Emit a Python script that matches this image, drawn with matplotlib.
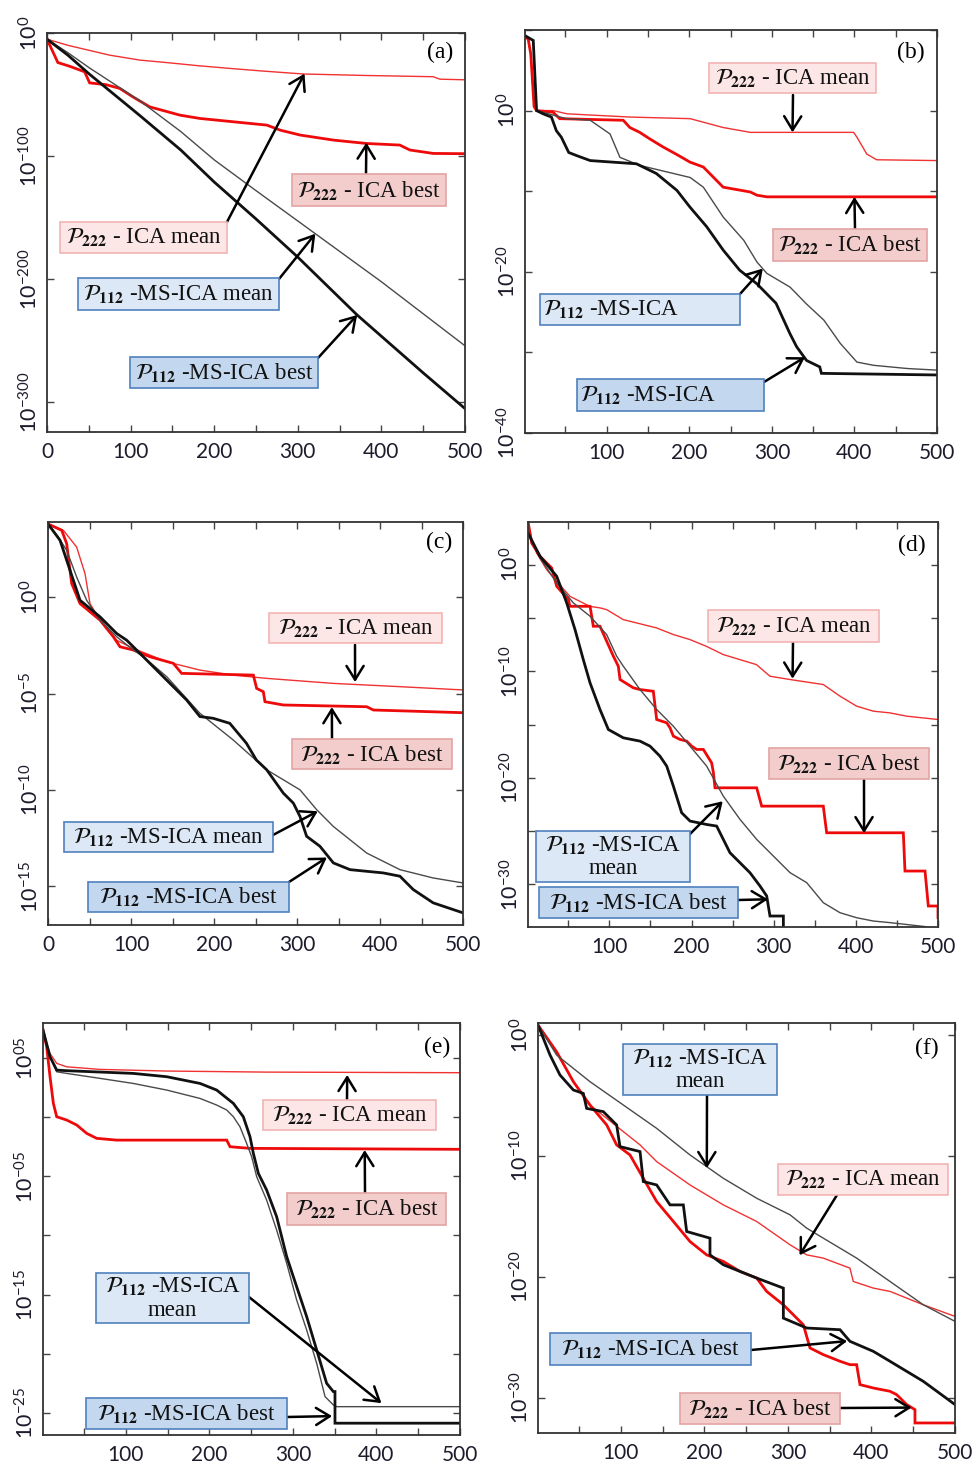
import matplotlib
matplotlib.use('Agg')
import matplotlib.pyplot as plt
from matplotlib.patches import Rectangle
from matplotlib.ticker import MultipleLocator, FuncFormatter

plt.rcParams['font.family'] = ['Lato', 'DejaVu Sans']
plt.rcParams['mathtext.fontset'] = 'custom'
plt.rcParams['mathtext.rm'] = 'Lato'
plt.rcParams['mathtext.it'] = 'Lato:italic'
plt.rcParams['mathtext.bf'] = 'Lato:bold'

W, H = 974, 1467

# ---- data: iteration vs log10(cost) ----
# (a)
a_ica_mean_x = [0, 25, 50, 75, 111, 143, 180, 223, 260, 307, 382, 462, 470, 500]
a_ica_mean_y = [-5, -10, -14, -18, -22, -24, -26.5, -29, -31, -33.3, -34.5, -35.5, -37.5, -38]
a_ica_best_x = [0, 13, 27, 45, 51, 71, 87, 103, 123, 159, 183, 263, 279, 303, 343, 382, 422, 434, 462, 500]
a_ica_best_y = [-5, -24, -27, -31.5, -40.5, -42, -45, -52, -60, -66.7, -69.4, -74.8, -78.9, -82.9, -87, -89.7, -91, -95, -97.8, -98]
a_ms_mean_x = [0, 25, 50, 111, 160, 200, 250, 321, 400, 450, 500]
a_ms_mean_y = [-5, -16, -28, -55, -80, -103, -128, -163, -202, -228, -254]
a_ms_best_x = [0, 25, 50, 111, 160, 200, 250, 300, 371, 450, 500]
a_ms_best_y = [-5, -18, -33, -67, -95, -121, -151, -182, -229, -276, -305]

# (b)
b_ica_mean_x = [1, 5, 8, 12, 15, 35, 52, 128, 201, 241, 274, 399, 403, 415, 427, 500]
b_ica_mean_y = [9.3, 8.8, 7.0, 0.5, 0.0, 0.0, -0.4, -0.8, -1.0, -2.1, -2.7, -2.7, -3.3, -5.4, -6.1, -6.2]
b_ica_best_x = [1, 5, 8, 12, 15, 35, 43, 120, 128, 140, 152, 168, 184, 201, 217, 241, 274, 282, 294, 500]
b_ica_best_y = [9.3, 8.8, 7.0, 0.5, 0.0, -0.2, -1.0, -1.2, -2.1, -2.7, -3.5, -4.5, -5.4, -6.4, -7.0, -9.5, -10.1, -10.5, -10.7, -10.7]
b_ms_mean_x = [1, 11, 15, 51, 80, 104, 116, 140, 201, 217, 241, 266, 282, 294, 322, 342, 363, 383, 403, 423, 464, 500]
b_ms_mean_y = [9.3, 8.7, 0.0, -1.0, -1.2, -2.9, -5.8, -6.8, -8.3, -9.5, -13.2, -16.1, -18.8, -20.2, -21.9, -24.0, -26.0, -28.9, -31.2, -31.6, -32.0, -32.2]
b_ms_best_x = [1, 11, 15, 23, 33, 39, 45, 54, 64, 80, 136, 160, 185, 201, 221, 241, 261, 282, 305, 322, 330, 342, 358, 360, 500]
b_ms_best_y = [9.3, 8.7, 0.0, -0.4, -0.8, -2.5, -3.3, -5.2, -5.6, -6.2, -6.6, -7.8, -9.9, -12.0, -14.4, -17.3, -19.8, -21.5, -23.9, -27.7, -29.3, -31.0, -31.8, -32.6, -32.8]

# (c)
c_ica_mean_x = [0, 18.5, 34.5, 44.6, 50.6, 62.7, 82.7, 102.8, 122.9, 143, 183, 223, 263.5, 343.8, 424, 500]
c_ica_mean_y = [3.8, 3.47, 2.6, 1.22, -0.33, -1.19, -2.23, -2.66, -3.0, -3.35, -3.78, -4.04, -4.21, -4.47, -4.64, -4.81]
c_ica_best_x = [0, 16.5, 22.5, 28.5, 38.6, 62.7, 78.7, 86.7, 102.8, 122.9, 151, 161, 247.4, 251.4, 259.4, 261.4, 283.5, 384, 392, 500]
c_ica_best_y = [3.8, 3.47, 2.78, 0.71, -0.33, -1.19, -2.05, -2.57, -2.74, -3.09, -3.43, -3.95, -4.04, -4.73, -4.9, -5.42, -5.59, -5.68, -5.85, -5.99]
c_ms_mean_x = [0, 12.4, 22.5, 34.5, 46.6, 62.7, 82.7, 102.8, 114.9, 143, 183, 223, 263.5, 303.6, 323.7, 343.8, 384, 424, 464, 500]
c_ms_mean_y = [3.8, 3.12, 2.43, 1.05, -0.16, -1.19, -2.05, -2.74, -3.09, -4.12, -6.02, -7.4, -8.95, -9.99, -11.02, -11.89, -13.27, -14.13, -14.56, -14.82]
c_ms_best_x = [0, 14.5, 26.5, 38.6, 62.7, 82.7, 94.8, 114.9, 143, 167, 183, 199, 219, 239, 251, 263.5, 283.5, 295.6,
               303.6, 311.6, 327.7, 343.8, 363.9, 404, 424, 440, 464, 500]
c_ms_best_y = [3.8, 2.95, 1.4, -0.16, -1.02, -1.88, -2.23, -3.09, -4.3, -5.33, -6.19, -6.28, -6.54, -7.57, -8.44, -8.95,
               -10.16, -10.68, -11.37, -12.4, -12.92, -13.78, -14.13, -14.3, -14.47, -15.16, -15.85, -16.37]

# (d)
d_ica_mean_x = [1, 5.5, 11.5, 23.7, 35.9, 52, 76, 88.6, 96.7, 117, 157.6, 177.9, 198, 218, 238.7, 279, 295.5, 319.9,
                360.4, 380.7, 401, 421.3, 441.6, 461.9, 500]
d_ica_mean_y = [4.06, 2.34, 1.09, -0.47, -1.56, -2.97, -3.91, -4.06, -4.22, -5.16, -5.94, -6.56, -7.03, -7.66, -8.44,
                -9.38, -10.47, -10.78, -11.25, -12.34, -13.28, -13.75, -13.91, -14.22, -14.53]
d_ica_best_x = [1, 5.5, 15.6, 29.8, 35.9, 50.1, 52.1, 76.5, 80.5, 88.6, 104.9, 110.9, 113, 129.2, 137.3, 153.5, 157.6,
                169.8, 173.8, 177.9, 186, 194.1, 200.2, 206.3, 214.4, 224.5, 226.6, 228.6, 279.3, 285.4, 360.4, 364.5,
                457.8, 459.8, 484.2, 488.2, 500, 500]
d_ica_best_y = [4.06, 2.03, 0.78, -0.31, -2.03, -3.28, -3.91, -3.91, -5.78, -5.78, -8.59, -9.53, -10.78, -11.56, -11.72,
                -11.88, -14.53, -14.84, -15.31, -16.09, -16.4, -16.56, -17.03, -17.34, -17.34, -18.6, -19.5, -20.94,
                -20.94, -22.66, -22.66, -25.16, -25.16, -28.75, -28.75, -32.03, -32.03, -33.1]
d_ms_mean_x = [1, 15.6, 35.9, 56.2, 76.5, 96.7, 108.9, 117, 137.3, 157.6, 177.9, 198.2, 218.4, 238.7, 259, 279.3,
               299.6, 319.9, 340.2, 360.4, 380.7, 401, 421.3, 441.6, 485.2]
d_ms_mean_y = [2.97, 0.63, -1.72, -3.59, -4.84, -6.56, -8.59, -9.53, -11.72, -13.59, -15.16, -17.03, -18.9, -21.72,
               -23.9, -25.78, -27.34, -28.9, -29.84, -31.72, -32.66, -33.13, -33.44, -33.59, -33.97]
d_ms_best_x = [1, 15.6, 35.9, 48.1, 58.2, 68.3, 76.5, 88.6, 98.8, 117, 137.3, 149.5, 161.6, 169.8, 177.9, 188, 198.2,
               218.4, 230.6, 246.8, 271.2, 283.4, 291.5, 295.5, 311.8, 311.8]
d_ms_best_y = [2.97, 0.78, -1.09, -3.59, -6.09, -8.91, -11.09, -13.59, -15.47, -16.25, -16.56, -17.03, -17.97, -18.9,
               -20.78, -23.28, -24.06, -24.38, -24.53, -27.03, -28.91, -30.16, -31.09, -32.97, -32.97, -34.5]

# (e)
e_ica_mean_x = [1, 5.4, 9.4, 17.4, 29.3, 69.2, 149, 268.6, 500]
e_ica_mean_y = [7.4, 6.27, 5.42, 4.58, 4.29, 4.07, 3.93, 3.84, 3.79]
e_ica_best_x = [1, 5.4, 9.4, 13.4, 17.4, 29.3, 41.3, 53.3, 65.2, 89.2, 220.8, 224.8, 248.7, 500]
e_ica_best_y = [7.4, 5.99, 3.45, 1.19, 0.06, -0.22, -0.64, -1.35, -1.77, -1.92, -1.92, -2.48, -2.62, -2.7]
e_ms_mean_x = [1, 9.4, 17.4, 29.3, 69.2, 109, 149, 188.9, 208.8, 220.8, 228.8, 236.7, 244.7, 250.7, 256.7, 268.6,
               280.6, 292.6, 304.5, 316.5, 328.5, 338.5, 348.4, 352.4, 500]
e_ms_mean_y = [7.4, 5.14, 3.87, 3.73, 3.31, 2.88, 2.32, 1.61, 1.05, 0.63, 0.06, -0.79, -2.2, -3.33, -5.02, -7.0,
               -9.54, -12.36, -15.46, -18.0, -20.83, -23.65, -24.35, -24.5, -24.5]
e_ms_best_x = [1, 9.4, 17.4, 29.3, 109, 149, 188.9, 208.8, 228.8, 240.7, 248.7, 252.7, 258.7, 268.6, 280.6, 292.6,
               304.5, 316.5, 328.5, 340.4, 348.4, 350.4, 350.4, 500]
e_ms_best_y = [7.4, 5.14, 4.01, 3.96, 3.73, 3.45, 2.88, 2.32, 1.19, 0.06, -1.63, -3.04, -4.74, -6.15, -8.41, -11.79,
               -14.33, -16.87, -19.7, -22.52, -23.22, -23.22, -25.9, -25.9]

# (f)
f_ica_mean_x = [1, 23.3, 43.3, 63.2, 83.2, 103.1, 123.1, 143, 182.9, 222.8, 262.7, 302.6, 322.5, 342.4, 374.3, 378.3,
                402.3, 422.2, 462.1, 500]
f_ica_mean_y = [0.83, -1.38, -3.85, -5.78, -6.88, -7.98, -9.08, -10.46, -12.39, -14.04, -15.41, -17.34, -18.17, -18.44,
                -19.27, -20.37, -20.92, -21.19, -22.3, -23.26]
f_ica_best_x = [1, 23.3, 43.3, 63.2, 83.2, 95.1, 111.1, 127, 143, 163, 182.9, 202.8, 222.8, 242.7, 262.7, 274.6,
                294.6, 318.5, 326.5, 342.4, 362.4, 374.3, 382.3, 386.3, 402.3, 422.2, 430.2, 442.2, 452.1, 452.1, 500]
f_ica_best_y = [0.83, -1.38, -3.85, -5.78, -7.43, -9.08, -9.91, -11.84, -13.76, -15.41, -17.07, -18.17, -18.72, -19.54,
                -20.09, -21.19, -22.3, -23.95, -25.87, -26.42, -26.97, -27.25, -27.25, -28.9, -29.18, -29.45, -29.73,
                -30.55, -30.97, -32.07, -32.07]
f_ms_mean_x = [1, 23.3, 63.2, 103.1, 143, 182.9, 222.8, 262.7, 302.6, 322.5, 342.4, 382.3, 422.2, 462.1, 500]
f_ms_mean_y = [0.83, -1.65, -3.85, -5.78, -7.71, -9.91, -11.84, -13.49, -14.86, -15.96, -16.79, -18.44, -20.37, -22.3,
               -23.67]
f_ms_best_x = [1, 15.4, 27.3, 43.3, 55.2, 59.2, 79.2, 95.1, 99.1, 123.1, 127, 143, 159, 174.9, 178.9, 206.8, 206.8,
               222.8, 262.7, 294.6, 294.6, 322.5, 362.4, 374.3, 402.3, 422.2, 462.1, 500]
f_ms_best_y = [0.83, -1.65, -3.3, -4.54, -4.82, -6.06, -6.33, -7.43, -9.22, -9.63, -12.11, -12.39, -14.04, -14.04,
               -16.24, -16.79, -18.17, -18.99, -20.09, -20.92, -23.4, -24.22, -24.36, -25.32, -26.15, -26.97, -28.63,
               -30.55]

STYLE = {
    'ica_mean': dict(color='#f03232', lw=1.0),
    'ica_best': dict(color='#ee0a0a', lw=2.0),
    'ms_mean': dict(color='#4a4a4a', lw=1.0),
    'ms_best': dict(color='#111111', lw=2.0),
}
BOX = {
    'ica_mean': ('#fce6e6', '#f2b4b4'),
    'ica_best': ('#f2cdcc', '#e3a3a3'),
    'ms_mean': ('#dce8f6', '#4f81bd'),
    'ms_best': ('#c3d7ef', '#4f81bd'),
}
P222 = r'$\mathcal{P}_{\mathbf{222}}$'
P112 = r'$\mathcal{P}_{\mathbf{112}}$'

fig = plt.figure(figsize=(W / 100, H / 100), dpi=100)


def px(x, y):
    return x / W, 1 - y / H


def make_axes(L, R, T, B):
    return fig.add_axes([L / W, 1 - B / H, (R - L) / W, (B - T) / H])


def exp_formatter(labelled, zero_pad=False):
    def f(v, pos):
        k = int(round(v))
        if k not in labelled:
            return ''
        if zero_pad:
            s = ('-' if k < 0 else '') + '%02d' % abs(k)
        else:
            s = '%d' % k
        return r'$10^{%s}$' % s
    return FuncFormatter(f)


def x_formatter(v, pos):
    k = int(round(v))
    return '%d' % k if k % 100 == 0 else ''


def setup(ax, xlim, ylim, ystep, ylabels, zero_pad=False):
    ax.set_xlim(*xlim)
    ax.set_ylim(*ylim)
    ax.xaxis.set_major_locator(MultipleLocator(50))
    ax.xaxis.set_major_formatter(FuncFormatter(x_formatter))
    ax.yaxis.set_major_locator(MultipleLocator(ystep))
    ax.yaxis.set_major_formatter(exp_formatter(ylabels, zero_pad))
    ax.tick_params(direction='in', top=True, right=True, length=5, width=1, color='#444444',
                   labelcolor='#1c1c2c')
    ax.tick_params(axis='x', pad=7, labelsize=15)
    ax.tick_params(axis='y', labelrotation=90, pad=4, labelsize=15.5)
    for lab in ax.get_yticklabels():
        lab.set_va('center')
    for s in ax.spines.values():
        s.set_linewidth(1.3)
        s.set_color('#333333')


def curves(ax, data):
    for key in ['ica_mean', 'ica_best', 'ms_mean', 'ms_best']:
        x, y = data[key]
        ax.plot(x, y, solid_joinstyle='miter', **STYLE[key])


def note(ax, kind, text, box, tail, head, align='center'):
    x0, y0, x1, y1 = box
    face, edge = BOX[kind]
    ax.annotate('', xy=head, xycoords='data', xytext=(tail[0], H - tail[1]), textcoords='figure pixels',
                annotation_clip=False,
                arrowprops=dict(arrowstyle='->,head_length=0.45,head_width=0.28', mutation_scale=22,
                                lw=1.8, color='black', shrinkA=0, shrinkB=0))
    fx0, fy1 = px(x0, y1)
    fx1, fy0 = px(x1, y0)
    fig.add_artist(Rectangle((fx0, fy1), fx1 - fx0, fy0 - fy1, transform=fig.transFigure,
                             facecolor=face, edgecolor=edge, lw=1.2, zorder=5))
    cy = 1 - (y0 + y1) / 2 / H
    if align == 'left':
        tx, ha = (x0 + 3) / W, 'left'
    else:
        tx, ha = (x0 + x1) / 2 / W, 'center'
    fig.text(tx, cy, text, ha=ha, va='center', fontsize=16.5, family='Liberation Serif',
             math_fontfamily='stix', color='#111111', zorder=6, multialignment='center',
             linespacing=1.15)


def tag(ax, s, x, y):
    fig.text(x / W, 1 - y / H, s, ha='center', va='center', fontsize=17, family='Liberation Serif')


# (a)
ax = make_axes(47, 465, 33, 432)
curves(ax, {'ica_mean': (a_ica_mean_x, a_ica_mean_y), 'ica_best': (a_ica_best_x, a_ica_best_y),
            'ms_mean': (a_ms_mean_x, a_ms_mean_y), 'ms_best': (a_ms_best_x, a_ms_best_y)})
setup(ax, (0, 500), (-324, 0), 100, [0, -100, -200, -300])
note(ax, 'ica_mean', P222 + ' - ICA mean', (60, 222, 227, 253), (227, 222), (308, -33))
note(ax, 'ica_best', P222 + ' - ICA best', (292, 174, 446, 206), (366, 174), (382, -89))
note(ax, 'ms_mean', P112 + ' -MS-ICA mean', (78, 278, 279, 310), (279, 279), (321, -163))
note(ax, 'ms_best', P112 + ' -MS-ICA best', (130, 357, 318, 388), (318, 358), (371, -229))
tag(ax, '(a)', 440, 52)

# (b)
ax = make_axes(525, 937, 30, 433)
curves(ax, {'ica_mean': (b_ica_mean_x, b_ica_mean_y), 'ica_best': (b_ica_best_x, b_ica_best_y),
            'ms_mean': (b_ms_mean_x, b_ms_mean_y), 'ms_best': (b_ms_best_x, b_ms_best_y)})
setup(ax, (1, 500), (-40, 10), 10, [0, -20, -40])
note(ax, 'ica_mean', P222 + ' - ICA mean', (709, 63, 876, 93), (793, 95), (325, -2.7))
note(ax, 'ica_best', P222 + ' - ICA best', (773, 229, 927, 261), (855, 229), (400, -10.7))
note(ax, 'ms_mean', P112 + ' -MS-ICA', (540, 294, 740, 325), (740, 294), (289, -19.6), align='left')
note(ax, 'ms_best', P112 + ' -MS-ICA', (577, 379, 764, 411), (764, 382), (340, -30.6), align='left')
tag(ax, '(b)', 911, 52)

# (c)
ax = make_axes(48, 463, 522, 925)
curves(ax, {'ica_mean': (c_ica_mean_x, c_ica_mean_y), 'ica_best': (c_ica_best_x, c_ica_best_y),
            'ms_mean': (c_ms_mean_x, c_ms_mean_y), 'ms_best': (c_ms_best_x, c_ms_best_y)})
setup(ax, (0, 500), (-17, 3.9), 5, [0, -5, -10, -15])
note(ax, 'ica_mean', P222 + ' - ICA mean', (269, 613, 442, 643), (355, 645), (370, -4.4))
note(ax, 'ica_best', P222 + ' - ICA best', (292, 739, 452, 769), (332, 739), (342, -5.7))
note(ax, 'ms_mean', P112 + ' -MS-ICA mean', (64, 822, 273, 852), (273, 835), (325, -11.1))
note(ax, 'ms_best', P112 + ' -MS-ICA best', (88, 882, 289, 912), (289, 882), (336, -13.5))
tag(ax, '(c)', 439, 542)

# (d)
ax = make_axes(528, 938, 522, 927)
curves(ax, {'ica_mean': (d_ica_mean_x, d_ica_mean_y), 'ica_best': (d_ica_best_x, d_ica_best_y),
            'ms_mean': (d_ms_mean_x, d_ms_mean_y), 'ms_best': (d_ms_best_x, d_ms_best_y)})
setup(ax, (1, 500), (-34, 4), 5, [0, -10, -20, -30])
note(ax, 'ica_mean', P222 + ' - ICA mean', (708, 610, 879, 642), (793, 642), (323, -10.7))
note(ax, 'ica_best', P222 + ' - ICA best', (769, 748, 929, 779), (864, 779), (410, -25.2))
note(ax, 'ms_mean', P112 + ' -MS-ICA\nmean', (536, 831, 690, 882), (687, 837), (238, -22.2))
note(ax, 'ms_best', P112 + ' -MS-ICA best', (539, 887, 738, 918), (738, 900), (293, -31.4))
tag(ax, '(d)', 912, 545)

# (e)
ax = make_axes(43, 460, 1023, 1435)
curves(ax, {'ica_mean': (e_ica_mean_x, e_ica_mean_y), 'ica_best': (e_ica_best_x, e_ica_best_y),
            'ms_mean': (e_ms_mean_x, e_ms_mean_y), 'ms_best': (e_ms_best_x, e_ms_best_y)})
setup(ax, (1, 500), (-26.9, 8), 5, [5, -5, -15, -25], zero_pad=True)
note(ax, 'ica_mean', P222 + ' - ICA mean', (263, 1100, 436, 1130), (347, 1100), (365, 3.6))
note(ax, 'ica_best', P222 + ' - ICA best', (287, 1193, 446, 1225), (365, 1192), (386, -2.76))
note(ax, 'ms_mean', P112 + ' -MS-ICA\nmean', (96, 1273, 249, 1323), (249, 1297), (406, -24.2))
note(ax, 'ms_best', P112 + ' -MS-ICA best', (86, 1398, 287, 1429), (287, 1417), (347, -25.3))
tag(ax, '(e)', 437, 1047)

# (f)
ax = make_axes(538, 955, 1023, 1433)
curves(ax, {'ica_mean': (f_ica_mean_x, f_ica_mean_y), 'ica_best': (f_ica_best_x, f_ica_best_y),
            'ms_mean': (f_ms_mean_x, f_ms_mean_y), 'ms_best': (f_ms_best_x, f_ms_best_y)})
setup(ax, (1, 500), (-32.9, 1), 10, [0, -10, -20, -30])
note(ax, 'ms_mean', P112 + ' -MS-ICA\nmean', (623, 1044, 777, 1095), (707, 1095), (203, -11))
note(ax, 'ica_mean', P222 + ' - ICA mean', (778, 1164, 948, 1195), (837, 1195), (314, -18.2))
note(ax, 'ms_best', P112 + ' -MS-ICA best', (550, 1333, 751, 1365), (751, 1350), (371, -25.3))
note(ax, 'ica_best', P222 + ' - ICA best', (680, 1393, 840, 1424), (840, 1408), (448, -30.8))
tag(ax, '(f)', 927, 1048)

fig.savefig('out.png', dpi=100)
